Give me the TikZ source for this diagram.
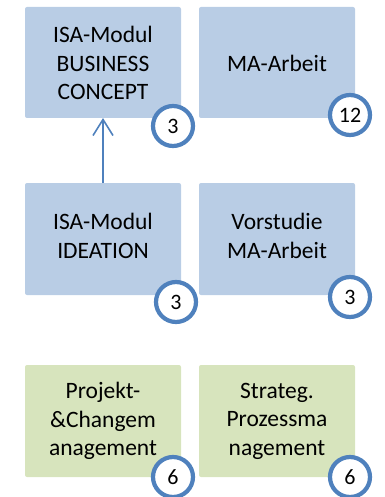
\documentclass[tikz,border=0pt]{standalone}
\usepackage{fontspec}
\setmainfont{Carlito}
\usetikzlibrary{arrows.meta}
\definecolor{boxblue}{HTML}{B9CDE5}
\definecolor{boxgreen}{HTML}{D7E4BD}
\definecolor{ringblue}{HTML}{4F81BD}
\begin{document}
\begin{tikzpicture}[x=1pt,y=-1pt,
  card/.style={rounded corners=2pt, inner sep=0pt},
  cardtext/.style={align=center, font=\fontsize{23.5}{28.5}\selectfont, inner sep=0pt},
  badge/.style={circle, draw=ringblue, line width=4.2pt, fill=white, minimum size=40pt, inner sep=0pt, font=\fontsize{22}{24}\selectfont},
  link/.style={draw=ringblue, line width=1.6pt, -{Straight Barb[length=16pt,width=20pt,line width=1.6pt]}}]
\useasboundingbox (0,0) rectangle (384,497);
% boxes
\fill[boxblue, card] (25,7) rectangle (181,118);
\fill[boxblue, card] (199,7) rectangle (355,118);
\fill[boxblue, card] (25,183) rectangle (181,295);
\fill[boxblue, card] (199,183) rectangle (355,295);
\fill[boxgreen, card] (25,365) rectangle (181,477);
\fill[boxgreen, card] (199,365) rectangle (355,477);
\node[cardtext] (bc) at (103,63) {ISA-Modul\\BUSINESS\\CONCEPT};
\node[cardtext] (ma) at (277,63) {MA-Arbeit};
\node[cardtext] (id) at (103,236) {ISA-Modul\\IDEATION};
\node[cardtext] (vs) at (277,236) {Vorstudie\\MA-Arbeit};
\node[cardtext] (pc) at (103,421) {Projekt-\\\&Changem\\anagement};
\node[cardtext] (sp) at (277,421) {Strateg.\\Prozessma\\nagement};
\coordinate (bcbot) at (103,118);
\coordinate (idtop) at (103,183);
\draw[link] (idtop) -- (bcbot);
% badges
\node[badge] (b1) at (173,126) {3};
\node[badge] (b2) at (350,115) {12};
\node[badge] (b3) at (176,302) {3};
\node[badge] (b4) at (350,297) {3};
\node[badge] (b5) at (173,477) {6};
\node[badge] (b6) at (350,477) {6};
\end{tikzpicture}
\end{document}
